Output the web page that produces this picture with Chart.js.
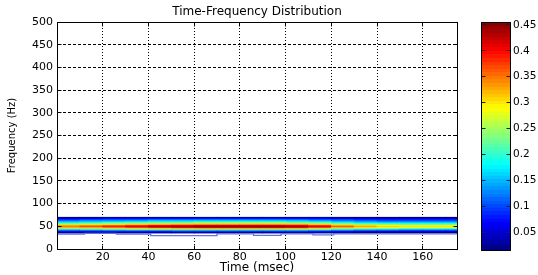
<!DOCTYPE html>
<html>
<head>
<meta charset="utf-8">
<script src="https://cdn.jsdelivr.net/npm/chart.js@4.4.1/dist/chart.umd.min.js"></script>
<style>
  html, body { margin: 0; padding: 0; background: #fff; }
  #wrap { position: relative; width: 538px; height: 275px; }
  #tfd { position: absolute; left: 0; top: 0; }
  #cbar { position: absolute; left: 470px; top: 0; }
</style>
</head>
<body>
<div id="wrap">
  <canvas id="tfd" width="470" height="275"></canvas>
  <canvas id="cbar" width="68" height="275"></canvas>
</div>
<script>
// time bins (msec, centre of each 10 ms column)
const timeCenters = [5, 15, 25, 35, 45, 55, 65, 75, 85, 95, 105, 115, 125, 135, 145, 155, 165, 175];
// frequency bin edges (Hz)
const freqEdges = [35, 37.5, 40, 42.5, 45, 47.5, 50, 52.5, 55, 57.5, 60, 62.5, 65, 67.5, 70];
// energy, one row per frequency bin (bottom row first)
const energy = [
  [0.03, 0.03, 0.03, 0.03, 0.03, 0.03, 0.03, 0.03, 0.03, 0.03, 0.03, 0.03, 0.03, 0.02, 0.02, 0.02, 0.02, 0.02],
  [0.08, 0.08, 0.09, 0.09, 0.09, 0.10, 0.10, 0.10, 0.10, 0.10, 0.10, 0.09, 0.08, 0.07, 0.07, 0.07, 0.07, 0.07],
  [0.15, 0.16, 0.17, 0.18, 0.19, 0.19, 0.20, 0.20, 0.20, 0.20, 0.19, 0.18, 0.16, 0.15, 0.14, 0.13, 0.13, 0.13],
  [0.24, 0.25, 0.27, 0.28, 0.29, 0.30, 0.31, 0.31, 0.31, 0.31, 0.30, 0.28, 0.24, 0.22, 0.21, 0.20, 0.20, 0.20],
  [0.32, 0.33, 0.35, 0.37, 0.39, 0.40, 0.41, 0.41, 0.41, 0.41, 0.40, 0.37, 0.32, 0.30, 0.28, 0.27, 0.27, 0.27],
  [0.35, 0.37, 0.39, 0.41, 0.43, 0.44, 0.45, 0.45, 0.45, 0.45, 0.44, 0.41, 0.36, 0.33, 0.31, 0.30, 0.30, 0.30],
  [0.33, 0.34, 0.36, 0.38, 0.40, 0.41, 0.42, 0.42, 0.42, 0.42, 0.41, 0.38, 0.33, 0.31, 0.29, 0.28, 0.28, 0.28],
  [0.26, 0.27, 0.28, 0.30, 0.31, 0.32, 0.33, 0.33, 0.33, 0.33, 0.32, 0.30, 0.26, 0.24, 0.23, 0.22, 0.22, 0.22],
  [0.21, 0.22, 0.23, 0.24, 0.25, 0.26, 0.27, 0.27, 0.27, 0.27, 0.26, 0.24, 0.21, 0.19, 0.18, 0.18, 0.18, 0.18],
  [0.16, 0.17, 0.18, 0.19, 0.20, 0.20, 0.21, 0.21, 0.21, 0.21, 0.20, 0.19, 0.17, 0.15, 0.14, 0.14, 0.14, 0.14],
  [0.13, 0.14, 0.14, 0.15, 0.16, 0.16, 0.17, 0.17, 0.17, 0.17, 0.16, 0.15, 0.13, 0.12, 0.11, 0.11, 0.11, 0.11],
  [0.09, 0.10, 0.11, 0.11, 0.12, 0.12, 0.12, 0.12, 0.12, 0.12, 0.12, 0.11, 0.10, 0.09, 0.08, 0.08, 0.08, 0.08],
  [0.06, 0.06, 0.07, 0.07, 0.07, 0.07, 0.08, 0.08, 0.08, 0.08, 0.07, 0.07, 0.06, 0.06, 0.05, 0.05, 0.05, 0.05],
  [0.02, 0.03, 0.03, 0.03, 0.03, 0.03, 0.03, 0.03, 0.03, 0.03, 0.03, 0.03, 0.03, 0.02, 0.02, 0.02, 0.02, 0.02]
];
// low-level contour under the band
const contourT = [0, 12, 26, 41, 70, 86, 98, 112, 121, 175];
const contourF = [33, 34.5, 33, 29.5, 33.5, 30, 33.5, 31, 33.5, 33.5];

const xTicks = [20, 40, 60, 80, 100, 120, 140, 160];
const cbarTicks = [0.05, 0.1, 0.15, 0.2, 0.25, 0.3, 0.35, 0.4, 0.45];
const cMin = 0.0145, cMax = 0.455;

Chart.defaults.font.family = "'DejaVu Sans', sans-serif";
Chart.defaults.color = '#000';

function clamp(v) { return Math.max(0, Math.min(1, v)); }
function jet(v) {
  const r = clamp(Math.min(4 * v - 1.5, -4 * v + 4.5));
  const g = clamp(Math.min(4 * v - 0.5, -4 * v + 3.5));
  const b = clamp(Math.min(4 * v + 0.5, -4 * v + 2.5));
  return `rgb(${Math.round(r * 255)},${Math.round(g * 255)},${Math.round(b * 255)})`;
}
function colorFor(val) {
  let i = Math.floor((val - cMin) / (cMax - cMin) * 64);
  i = Math.max(0, Math.min(63, i));
  return jet((i + 0.5) / 64);
}
function align(px) { return Math.round(px - 0.5) + 0.5; }

// axes box with inward ticks, like the original figure
const boxFrame = {
  id: 'boxFrame',
  afterDraw(chart) {
    const {ctx, chartArea: a, scales: {x, y}} = chart;
    const L = align(a.left), R = align(a.right), T = align(a.top), B = align(a.bottom);
    ctx.save();
    ctx.strokeStyle = '#000';
    ctx.lineWidth = 1;
    ctx.setLineDash([]);
    ctx.strokeRect(L, T, R - L, B - T);
    ctx.beginPath();
    x.ticks.forEach(t => {
      const px = align(x.getPixelForValue(t.value));
      ctx.moveTo(px, B); ctx.lineTo(px, B - 4);
      ctx.moveTo(px, T); ctx.lineTo(px, T + 4);
    });
    y.ticks.forEach(t => {
      const py = align(y.getPixelForValue(t.value));
      ctx.moveTo(L, py); ctx.lineTo(L + 4, py);
      ctx.moveTo(R, py); ctx.lineTo(R - 4, py);
    });
    ctx.stroke();
    ctx.restore();
  }
};

const heatSets = energy.map((row, r) => ({
  type: 'bar',
  data: timeCenters.map((t, i) => ({x: t, y: [freqEdges[r], freqEdges[r + 1]]})),
  backgroundColor: row.map(colorFor),
  borderWidth: 0,
  grouped: false,
  barPercentage: 1,
  categoryPercentage: 1
}));

new Chart(document.getElementById('tfd'), {
  type: 'bar',
  data: {
    datasets: [{
      type: 'line',
      data: contourT.map((t, i) => ({x: t, y: contourF[i]})),
      borderColor: '#6672e2',
      borderWidth: 1.3,
      pointRadius: 0,
      stepped: true,
      order: -1
    }].concat(heatSets)
  },
  options: {
    responsive: false,
    animation: false,
    devicePixelRatio: 1,
    layout: {padding: {left: 0, right: 13, top: 0, bottom: 0}},
    plugins: {
      legend: {display: false},
      tooltip: {enabled: false},
      title: {
        display: true,
        text: 'Time-Frequency Distribution',
        color: '#000',
        fullSize: false,
        font: {size: 12, weight: 'normal'},
        padding: {top: 5, bottom: 2.6}
      }
    },
    scales: {
      x: {
        type: 'linear',
        min: 0,
        max: 175,
        offset: false,
        z: 1,
        afterBuildTicks: s => { s.ticks = xTicks.map(v => ({value: v})); },
        afterFit: s => { s.height = 26; },
        ticks: {font: {size: 11}, padding: 1.5, maxRotation: 0, autoSkip: false},
        grid: {color: '#000', drawTicks: false, offset: false},
        border: {color: '#000', dash: [1, 2]},
        title: {display: true, text: 'Time (msec)', font: {size: 12}, padding: {top: 0, bottom: 0}}
      },
      y: {
        min: 0,
        max: 500,
        z: 1,
        afterFit: s => { s.width = 57; },
        ticks: {stepSize: 50, font: {size: 11}, padding: 4},
        grid: {color: '#000', drawTicks: false},
        border: {color: '#000', dash: [3, 2]},
        title: {display: true, text: 'Frequency (Hz)', font: {size: 10}, padding: {top: 6.5, bottom: 0}}
      }
    }
  },
  plugins: [boxFrame]
});

// colour bar
function barGradient(chart) {
  const a = chart.chartArea;
  if (!a) return '#000';
  const g = chart.ctx.createLinearGradient(0, a.bottom, 0, a.top);
  for (let i = 0; i < 64; i++) {
    const c = jet((i + 0.5) / 64);
    g.addColorStop(i / 64, c);
    g.addColorStop((i + 1) / 64, c);
  }
  return g;
}

const cbarFrame = {
  id: 'cbarFrame',
  afterDraw(chart) {
    const {ctx, chartArea: a, scales: {y}} = chart;
    const L = align(a.left), R = align(a.right), T = align(a.top), B = align(a.bottom);
    ctx.save();
    ctx.strokeStyle = '#000';
    ctx.lineWidth = 1;
    ctx.strokeRect(L, T, R - L, B - T);
    ctx.beginPath();
    y.ticks.forEach(t => {
      const py = align(y.getPixelForValue(t.value));
      ctx.moveTo(L, py); ctx.lineTo(L + 4, py);
      ctx.moveTo(R, py); ctx.lineTo(R - 4, py);
    });
    ctx.strokeStyle = '#123';
    ctx.stroke();
    ctx.restore();
  }
};

new Chart(document.getElementById('cbar'), {
  type: 'bar',
  data: {
    labels: [''],
    datasets: [{
      data: [[cMin, cMax]],
      backgroundColor: c => barGradient(c.chart),
      borderWidth: 0,
      barPercentage: 1,
      categoryPercentage: 1
    }]
  },
  options: {
    responsive: false,
    animation: false,
    devicePixelRatio: 1,
    layout: {padding: {left: 11.7, right: 0, top: 22.3, bottom: 24.3}},
    plugins: {legend: {display: false}, tooltip: {enabled: false}},
    scales: {
      x: {display: false},
      y: {
        position: 'right',
        min: cMin,
        max: cMax,
        afterBuildTicks: s => { s.ticks = cbarTicks.map(v => ({value: v})); },
        afterFit: s => { s.width = 27.3; },
        ticks: {font: {size: 10.5}, padding: 2.3, callback: v => String(v)},
        grid: {display: false, drawTicks: false},
        border: {display: false}
      }
    }
  },
  plugins: [cbarFrame]
});
</script>
</body>
</html>
